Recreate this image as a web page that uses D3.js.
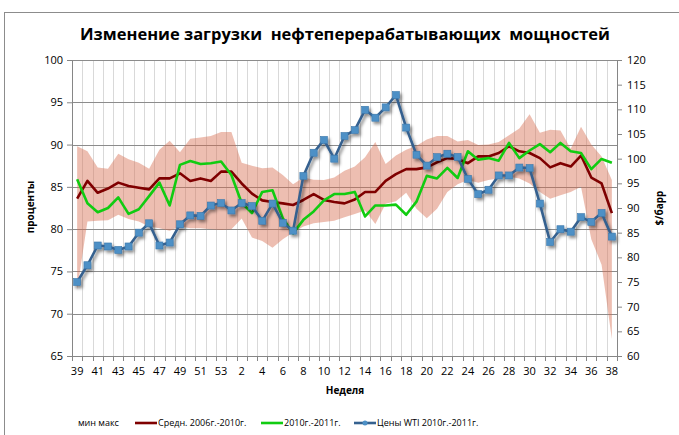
<!DOCTYPE html>
<html>
<head>
<meta charset="utf-8">
<style>
  body { margin: 0; background: #fff; }
  svg { font-family: "Open Sans", "DejaVu Sans", sans-serif; }
</style>
</head>
<body>
<svg id="chart" width="679" height="435"></svg>
<script src="https://d3js.org/d3.v7.min.js"></script>
<script>
// weeks: 39..53 of 2010, then 1..38 of 2011
const weeks = ["39","40","41","42","43","44","45","46","47","48","49","50","51","52","53",
  "1","2","3","4","5","6","7","8","9","10","11","12","13","14","15","16","17","18","19","20",
  "21","22","23","24","25","26","27","28","29","30","31","32","33","34","35","36","37","38"]

// average 2006-2010, %
const avgLoad = [83.6,85.7,84.3,84.8,85.5,85.1,84.9,84.7,86.0,86.0,86.6,85.7,86.0,85.7,86.8,
  86.8,85.4,84.2,83.4,83.2,83.05,82.85,83.45,84.15,83.45,83.2,83.05,83.5,84.4,84.4,
  85.7,86.5,87.1,87.1,87.3,87.9,88.4,88.3,87.8,88.6,88.6,89.0,89.8,89.2,89.0,88.4,
  87.3,87.8,87.4,88.7,86.1,85.4,81.9]

// 2010-2011, %
const load1011 = [85.9,83.05,82.0,82.5,83.75,81.8,82.35,83.9,85.5,82.8,87.6,88.05,87.7,87.8,88.0,
  86.4,83.1,81.9,84.4,84.6,81.3,79.5,81.1,82.1,83.4,84.15,84.15,84.4,81.5,82.8,
  82.8,82.9,81.7,83.25,86.3,86.0,87.25,86.05,89.2,88.2,88.4,88.1,90.2,88.4,89.3,90.05,
  89.1,90.2,89.2,89.0,87.1,88.3,87.85]

// WTI price 2010-2011, $/bbl
const wtiPrice = [75.0,78.4,82.4,82.2,81.5,82.2,85.0,86.9,82.4,83.0,86.7,88.5,88.4,90.5,91.0,
  89.5,91.0,90.4,87.4,90.9,87.0,85.4,96.5,101.2,103.8,100.0,104.6,105.8,109.9,108.3,
  110.4,112.9,106.3,100.8,98.6,100.3,101.0,100.35,95.9,92.8,93.7,96.6,96.6,98.2,98.1,
  90.9,83.1,85.7,85.2,88.15,87.2,89.0,84.2]

// min / max 2006-2010, %
const minLoad = [72.8,80.9,81.0,81.05,81.7,81.2,80.9,80.3,80.1,79.8,80.3,80.1,80.1,80.0,79.9,
  80.0,81.25,79.0,78.6,77.8,78.8,79.6,80.3,80.7,80.85,81.0,81.4,81.8,82.2,80.6,
  83.0,83.3,84.3,82.4,81.3,82.4,84.4,85.3,85.8,85.5,85.8,86.0,86.2,86.0,85.4,84.4,
  83.6,84.0,84.4,85.0,78.8,75.8,67.0]
const maxLoad = [89.8,89.2,87.3,87.15,88.9,88.25,87.85,87.15,89.4,90.45,89.1,90.7,90.85,91.0,91.5,
  91.5,87.85,87.5,87.2,87.3,86.4,85.3,86.1,85.85,85.8,86.1,86.9,87.4,88.5,90.3,
  87.7,88.7,89.4,89.85,90.6,91.0,91.0,90.35,90.55,89.95,90.0,90.3,91.1,91.9,93.6,91.4,
  91.75,91.65,89.5,92.1,90.0,88.6,85.8]

const leftTicks = [65,70,75,80,85,90,95,100]
const rightTicks = [60,65,70,75,80,85,90,95,100,105,110,115,120]

const svg = d3.select("#chart")
const plotLeft = 72, plotRight = 617, plotTop = 60, plotBottom = 356

// chart frame
svg.append("rect")
  .attr("x", 4.5).attr("y", 12.5).attr("width", 720).attr("height", 500)
  .attr("fill", "#fff").attr("stroke", "#8c8c8c")

const defs = svg.append("defs")
defs.append("filter").attr("id", "shadow")
  .attr("x", "-10%").attr("y", "-10%").attr("width", "130%").attr("height", "130%")
  .append("feDropShadow")
  .attr("dx", 2).attr("dy", 2.5).attr("stdDeviation", 1.4)
  .attr("flood-color", "#000").attr("flood-opacity", 0.45)

const x = d3.scaleBand().domain(weeks).range([plotLeft, plotRight]).padding(0)
const cx = w => x(w) + x.bandwidth() / 2
const yL = d3.scaleLinear().domain([65, 100]).range([plotBottom, plotTop])
const yR = d3.scaleLinear().domain([60, 120]).range([plotBottom, plotTop])

// vertical grid lines at category boundaries
svg.append("g").selectAll("line").data(weeks.slice(1))
  .join("line")
  .attr("x1", d => Math.round(x(d)) + 0.5).attr("x2", d => Math.round(x(d)) + 0.5)
  .attr("y1", plotTop).attr("y2", plotBottom)
  .attr("stroke", "#d9d9d9").attr("stroke-width", 1)

// horizontal grid lines
svg.append("g").selectAll("line").data(leftTicks)
  .join("line")
  .attr("x1", plotLeft).attr("x2", plotRight)
  .attr("y1", d => Math.round(yL(d)) + 0.5).attr("y2", d => Math.round(yL(d)) + 0.5)
  .attr("stroke", "#8c8c8c").attr("stroke-width", 1)

// min-max band
const rows = weeks.map((w, i) => ({w, min: minLoad[i], max: maxLoad[i]}))
svg.append("path").datum(rows)
  .attr("fill", "rgba(213,106,77,0.44)")
  .attr("d", d3.area().x(d => cx(d.w)).y0(d => yL(d.min)).y1(d => yL(d.max)))

// lines
const lineL = d3.line().x((d, i) => cx(weeks[i])).y(d => yL(d))
svg.append("path").datum(avgLoad)
  .attr("fill", "none").attr("stroke", "#7f0000").attr("stroke-width", 2.6)
  .attr("stroke-linejoin", "round").attr("d", lineL)
svg.append("path").datum(load1011)
  .attr("fill", "none").attr("stroke", "#11cc11").attr("stroke-width", 2.6)
  .attr("stroke-linejoin", "round").attr("d", lineL)

const wti = svg.append("g").attr("filter", "url(#shadow)")
wti.append("path").datum(wtiPrice)
  .attr("fill", "none").attr("stroke", "#35618f").attr("stroke-width", 2.6)
  .attr("stroke-linejoin", "round")
  .attr("d", d3.line().x((d, i) => cx(weeks[i])).y(d => yR(d)))
wti.selectAll("rect").data(wtiPrice)
  .join("rect")
  .attr("x", (d, i) => cx(weeks[i]) - 3.5).attr("y", d => yR(d) - 3.5)
  .attr("width", 7).attr("height", 7)
  .attr("fill", "#4d90c6").attr("stroke", "#3c78ab").attr("stroke-width", 0.6)

// axes
const axisColor = "#868686"
const gl = svg.append("g").attr("transform", `translate(${plotLeft},0)`)
  .call(d3.axisLeft(yL).tickValues(leftTicks).tickSize(5).tickPadding(4))
const gr = svg.append("g").attr("transform", `translate(${plotRight},0)`)
  .call(d3.axisRight(yR).tickValues(rightTicks).tickSize(5).tickPadding(5))
const gb = svg.append("g").attr("transform", `translate(0,${plotBottom})`)
  .call(d3.axisBottom(x).tickSize(0).tickPadding(11)
    .tickFormat((d, i) => i % 2 === 0 ? d : ""))
gb.append("g").selectAll("line").data(weeks.concat(["end"]))
  .join("line")
  .attr("x1", (d, i) => Math.round(i < weeks.length ? x(d) : plotRight) + 0.5)
  .attr("x2", (d, i) => Math.round(i < weeks.length ? x(d) : plotRight) + 0.5)
  .attr("y1", 0).attr("y2", 5).attr("stroke", axisColor)

for (const g of [gl, gr, gb]) {
  g.select(".domain").attr("stroke", axisColor)
  g.selectAll(".tick line").attr("stroke", axisColor)
  g.selectAll("text").attr("font-size", 11).attr("fill", "#000")
    .attr("font-family", "Open Sans")
}

// titles
svg.append("text").attr("x", 345).attr("y", 40).attr("text-anchor", "middle")
  .attr("font-size", 16.5).attr("font-weight", "bold")
  .style("white-space", "pre")
  .text("Изменение загрузки  нефтеперерабатывающих  мощностей")
svg.append("text").attr("x", 345).attr("y", 394).attr("text-anchor", "middle")
  .attr("font-size", 10).attr("font-weight", "bold").text("Неделя")
svg.append("text").attr("transform", "translate(34,207) rotate(-90)")
  .attr("text-anchor", "middle").attr("font-size", 10).attr("font-weight", "bold")
  .text("проценты")
svg.append("text").attr("transform", "translate(663,208) rotate(-90)")
  .attr("text-anchor", "middle").attr("font-size", 10).attr("font-weight", "bold")
  .text("$/барр")

// legend
const legend = svg.append("g").attr("font-size", 9)
legend.append("text").attr("x", 78).attr("y", 426).text("мин макс")
const items = [
  {name: "Средн. 2006г.-2010г.", color: "#7f0000", x: 135},
  {name: "2010г.-2011г.", color: "#11cc11", x: 261},
  {name: "Цены WTI 2010г.-2011г.", color: "#35618f", x: 354}
]
items.forEach((it, k) => {
  legend.append("line").attr("x1", it.x).attr("x2", it.x + 22)
    .attr("y1", 423).attr("y2", 423).attr("stroke", it.color).attr("stroke-width", 2.6)
  if (k === 2) legend.append("circle").attr("cx", it.x + 11).attr("cy", 423).attr("r", 2.5)
    .attr("fill", "#4d90c6")
  legend.append("text").attr("x", it.x + 23).attr("y", 426).text(it.name)
})
</script>
</body>
</html>
